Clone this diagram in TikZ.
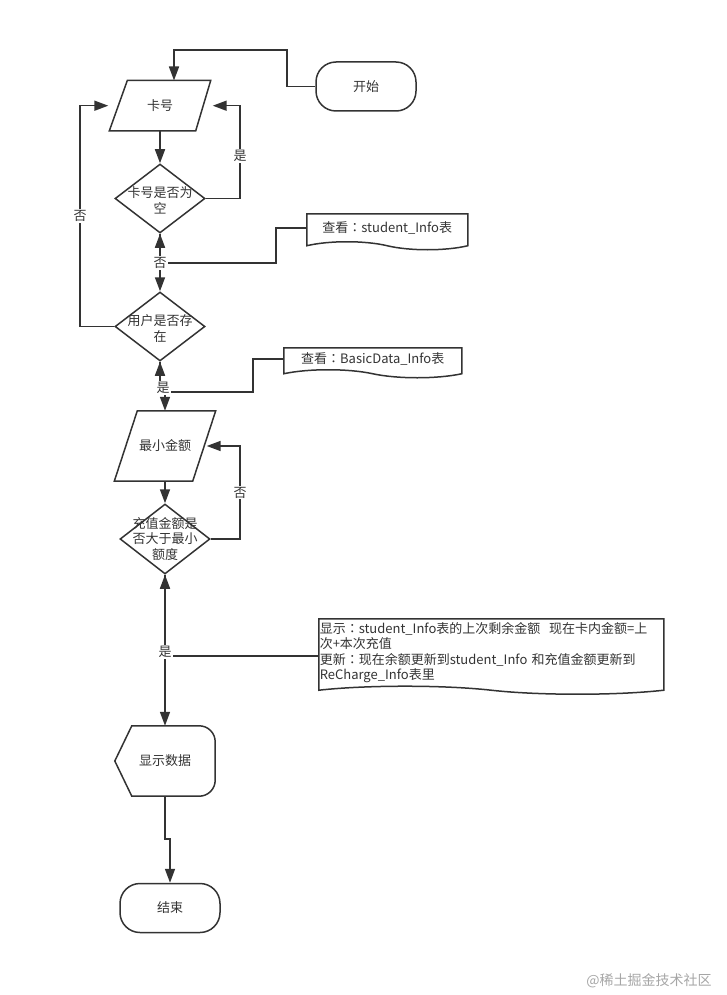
\documentclass[tikz,border=0pt]{standalone}
\usepackage{fontspec}
\setmainfont{Noto Sans CJK SC}
\newfontfamily\tcfont{Noto Sans CJK TC}
\newcommand\fwcolon{{\tcfont ：}}
\usetikzlibrary{shapes.geometric, shapes.symbols, arrows.meta, calc}
\definecolor{ink}{HTML}{333333}

\begin{document}
\begin{tikzpicture}[
  x=1pt, y=-1pt,
  >={Triangle[length=14pt,width=10pt]},
  every node/.style={font=\fontsize{13pt}{15.5pt}\selectfont, text=ink},
  line/.style={draw=ink, line width=1.6pt},
  outline/.style={draw=ink, line width=1.5pt},
  term/.style={outline, rounded corners=20pt, minimum width=100pt, minimum height=49pt},
  io/.style={inner sep=0pt},
  decision/.style={outline, diamond, minimum width=90pt, minimum height=69pt, inner sep=0pt},
  doc/.style={outline, tape, tape bend top=none, tape bend bottom=out and in, tape bend height=8pt},
  tag/.style={fill=white, inner sep=1pt}
]
\useasboundingbox (0,0) rectangle (727,995);

% Top: start and card number
\node[term] (start) at (366,86.5) {开始};
\node[io, minimum width=101pt, minimum height=50pt] (card) at (160,105.7) {卡号};
\draw[outline] ([xshift=18pt]card.north west) -- (card.north east)
  -- ([xshift=-15pt]card.south east) -- (card.south west) -- cycle;
\node[decision, label={[align=center, yshift=-2pt]center:卡号是否为\\空}] (q1) at (160,198.5) {};
\node[doc, minimum width=161pt, minimum height=36pt, anchor=north west] (doc1) at (306,213) {查看\fwcolon student\_Info表};

% Middle: user check and minimum amount
\node[decision, label={[align=center, yshift=-2pt]center:用户是否存\\在}] (q2) at (160,326.5) {};
\node[doc, minimum width=178pt, minimum height=30pt, anchor=north west] (doc2) at (283,347) {查看\fwcolon BasicData\_Info表};
\node[io, minimum width=101pt, minimum height=70pt] (minamt) at (165,446) {最小金额};
\draw[outline] ([xshift=23pt]minamt.north west) -- (minamt.north east)
  -- ([xshift=-23pt]minamt.south east) -- (minamt.south west) -- cycle;
\node[decision, minimum height=70pt, label={[align=center]center:充值金额是\\否大于最小\\额度}] (q3) at (165,539) {};
\node[doc, text width=343pt, align=left, inner xsep=1pt, minimum height=72pt, anchor=north west] (doc3) at (318,618)
  {显示\fwcolon student\_Info表的上次剩余金额\ \ 现在卡内金额=上\\次+本次充值\\更新\fwcolon 现在余额更新到student\_Info 和充值金额更新到\\ReCharge\_Info表里};

% Bottom: display and end
\node[minimum width=100pt, minimum height=70pt] (show) at (165,761) {显示数据};
\draw[outline] (show.west) -- ([xshift=17pt]show.north west)
  -- ([xshift=-16pt]show.north east) arc[start angle=90, end angle=0, radius=16pt]
  -- ([yshift=16pt]show.south east) arc[start angle=0, end angle=-90, radius=16pt]
  -- ([xshift=17pt]show.south west) -- cycle;
\node[term] (end) at (170,908) {结束};

% Connectors
\draw[line, ->] (start.west) -| (287,50) -| (card.north -| 174,0);
\draw[line, ->] (q1.north |- card.south) -- (q1.north);
\draw[line, ->] (q1.east) -- (240,198.5) |- node[tag, pos=0.23] {是} ([xshift=2pt]card.east);
\draw[line, ->] (q2.west) -- (80,326.5) |- node[tag, pos=0.25] {否} ([xshift=-1pt]card.west);

\coordinate (j1) at (160,263);
\draw[line, ->] (q1.south) -- (q2.north);
\draw[line, ->] (doc1.west) -| (276,263) -- (j1) -- (q1.south);
\node[tag] (no1) at (j1) {否};

\coordinate (j2) at (160,392);
\draw[line, ->] (q2.south) -- (j2) -| (minamt.north);
\draw[line, ->] (doc2.west) -| (253,392) -- (j2) -- (q2.south);
\node[tag] (yes2) at (163,388) {是};

\draw[line, ->] (minamt.south) -- (q3.north);
\draw[line, ->] (q3.east) -- (240,539) |- node[tag, pos=0.25] {否} ([xshift=-9pt]minamt.east);

\coordinate (j3) at (165,656);
\draw[line, ->] (q3.south) -- (show.north);
\draw[line, ->] (doc3.west |- j3) -- (j3) -- (q3.south);
\node[tag] (yes3) at ([yshift=4pt]j3) {是};

\draw[line, ->] (show.south) -- (165,839) -| (end.north);

% Watermark
\node[text=black!35, font=\fontsize{14pt}{16pt}\selectfont] (wm) at (649,981) {@稀土掘金技术社区};
\end{tikzpicture}
\end{document}
